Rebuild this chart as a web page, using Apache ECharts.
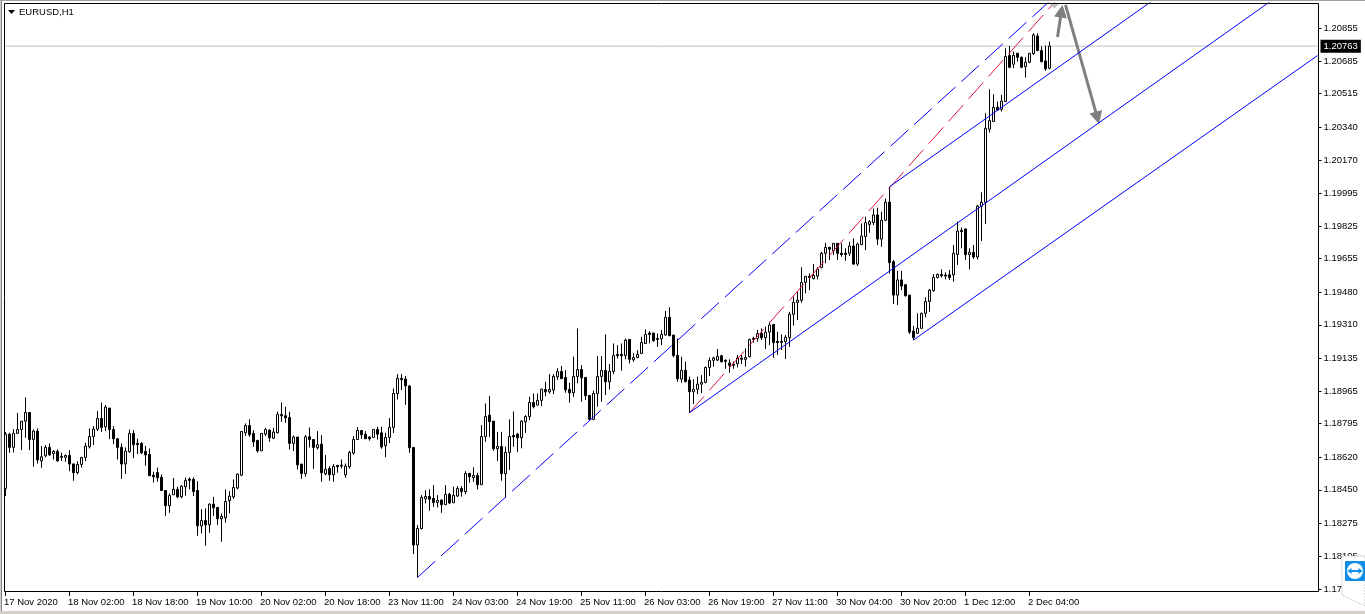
<!DOCTYPE html>
<html><head><meta charset="utf-8">
<style>html,body{margin:0;padding:0;background:#fff;overflow:hidden}#c{width:1365px;height:614px}</style>
<script src="https://cdn.jsdelivr.net/npm/echarts@6/dist/echarts.min.js"></script>
</head><body><div id="c"></div>
<script>
const opens=[1.18457,1.18740,1.18671,1.18744,1.18764,1.18808,1.18853,1.18712,1.18756,1.18601,
1.18627,1.18671,1.18639,1.18650,1.18624,1.18619,1.18629,1.18585,1.18539,1.18582,
1.18619,1.18674,1.18728,1.18766,1.18822,1.18778,1.18876,1.18764,1.18716,1.18671,
1.18585,1.18648,1.18744,1.18692,1.18692,1.18650,1.18634,1.18526,1.18540,1.18516,
1.18446,1.18367,1.18424,1.18452,1.18413,1.18466,1.18506,1.18504,1.18446,1.18262,
1.18290,1.18267,1.18375,1.18358,1.18299,1.18304,1.18393,1.18413,1.18459,1.18526,
1.18747,1.18785,1.18744,1.18707,1.18653,1.18740,1.18761,1.18719,1.18747,1.18843,
1.18836,1.18827,1.18692,1.18725,1.18584,1.18535,1.18726,1.18712,1.18669,1.18688,
1.18533,1.18561,1.18528,1.18577,1.18579,1.18528,1.18570,1.18641,1.18712,1.18759,
1.18739,1.18725,1.18723,1.18765,1.18747,1.18680,1.18723,1.18775,1.18952,1.19031,
1.19027,1.18991,1.18671,1.18162,1.18248,1.18403,1.18415,1.18405,1.18384,1.18396,
1.18372,1.18427,1.18382,1.18417,1.18457,1.18440,1.18535,1.18513,1.18525,1.18476,
1.18728,1.18839,1.18808,1.18664,1.18676,1.18534,1.18645,1.18733,1.18740,1.18721,
1.18805,1.18832,1.18905,1.18892,1.18916,1.18973,1.18961,1.18970,1.19039,1.19067,
1.19036,1.18973,1.18956,1.19041,1.19077,1.19036,1.18942,1.18817,1.18952,1.19041,
1.19072,1.19013,1.19067,1.19156,1.19156,1.19150,1.19234,1.19128,1.19140,1.19161,
1.19213,1.19267,1.19267,1.19239,1.19237,1.19257,1.19349,1.19257,1.19150,1.19027,
1.19073,1.19022,1.18961,1.18974,1.19001,1.19010,1.19088,1.19125,1.19126,1.19149,
1.19125,1.19111,1.19104,1.19107,1.19137,1.19130,1.19144,1.19239,1.19239,1.19266,
1.19243,1.19272,1.19312,1.19224,1.19224,1.19222,1.19243,1.19365,1.19427,1.19438,
1.19531,1.19564,1.19551,1.19564,1.19610,1.19683,1.19714,1.19697,1.19735,1.19683,
1.19683,1.19683,1.19721,1.19627,1.19728,1.19770,1.19834,1.19843,1.19883,1.19757,
1.19855,1.19950,1.19639,1.19465,1.19544,1.19519,1.19465,1.19278,1.19266,1.19292,
1.19370,1.19432,1.19488,1.19557,1.19573,1.19570,1.19571,1.19570,1.19676,1.19803,
1.19810,1.19676,1.19688,1.19664,1.19929,1.19949,1.20330,1.20370,1.20444,1.20434,
1.20474,1.20714,1.20669,1.20726,1.20705,1.20656,1.20679,1.20724,1.20816,1.20740,
1.20686,1.20648];
const closes=[1.18740,1.18671,1.18744,1.18764,1.18808,1.18853,1.18712,1.18756,1.18605,1.18622,
1.18671,1.18632,1.18650,1.18601,1.18619,1.18629,1.18585,1.18539,1.18582,1.18619,
1.18678,1.18728,1.18766,1.18822,1.18775,1.18881,1.18764,1.18716,1.18671,1.18584,
1.18652,1.18744,1.18685,1.18685,1.18643,1.18632,1.18523,1.18518,1.18513,1.18446,
1.18367,1.18420,1.18452,1.18413,1.18469,1.18499,1.18499,1.18441,1.18262,1.18290,
1.18267,1.18375,1.18356,1.18299,1.18311,1.18389,1.18417,1.18462,1.18532,1.18754,
1.18785,1.18737,1.18700,1.18653,1.18744,1.18764,1.18721,1.18751,1.18843,1.18836,
1.18825,1.18692,1.18725,1.18580,1.18535,1.18726,1.18712,1.18671,1.18685,1.18539,
1.18556,1.18528,1.18572,1.18570,1.18574,1.18574,1.18645,1.18712,1.18759,1.18737,
1.18716,1.18716,1.18765,1.18740,1.18673,1.18723,1.18775,1.18952,1.19031,1.19024,
1.18992,1.18669,1.18162,1.18248,1.18410,1.18415,1.18401,1.18384,1.18394,1.18372,
1.18426,1.18381,1.18421,1.18457,1.18440,1.18535,1.18518,1.18525,1.18476,1.18728,
1.18832,1.18805,1.18664,1.18676,1.18534,1.18645,1.18728,1.18726,1.18721,1.18808,
1.18832,1.18905,1.18883,1.18916,1.18975,1.18961,1.18973,1.19041,1.19067,1.19029,
1.18971,1.18956,1.19041,1.19077,1.19034,1.18940,1.18817,1.18952,1.19041,1.19072,
1.19013,1.19067,1.19150,1.19149,1.19149,1.19230,1.19130,1.19140,1.19156,1.19218,
1.19260,1.19260,1.19227,1.19234,1.19260,1.19349,1.19253,1.19149,1.19029,1.19073,
1.19014,1.18961,1.18974,1.19001,1.19010,1.19088,1.19125,1.19137,1.19146,1.19118,
1.19120,1.19099,1.19099,1.19137,1.19130,1.19140,1.19234,1.19234,1.19264,1.19243,
1.19272,1.19309,1.19217,1.19217,1.19219,1.19246,1.19365,1.19427,1.19438,1.19531,
1.19563,1.19557,1.19568,1.19601,1.19683,1.19714,1.19704,1.19735,1.19683,1.19676,
1.19677,1.19721,1.19627,1.19731,1.19773,1.19843,1.19848,1.19883,1.19757,1.19855,
1.19949,1.19634,1.19465,1.19544,1.19512,1.19462,1.19272,1.19243,1.19292,1.19370,
1.19432,1.19491,1.19557,1.19573,1.19566,1.19564,1.19557,1.19683,1.19799,1.19796,
1.19676,1.19688,1.19664,1.19929,1.19949,1.20335,1.20375,1.20444,1.20430,1.20477,
1.20709,1.20653,1.20715,1.20705,1.20653,1.20679,1.20726,1.20822,1.20740,1.20682,
1.20644,1.20763];
const lows=[1.18417,1.18643,1.18645,1.18740,1.18657,1.18721,1.18657,1.18570,1.18587,1.18565,
1.18619,1.18627,1.18608,1.18596,1.18601,1.18596,1.18547,1.18497,1.18530,1.18566,
1.18599,1.18665,1.18683,1.18756,1.18752,1.18756,1.18714,1.18688,1.18608,1.18507,
1.18532,1.18643,1.18615,1.18636,1.18636,1.18575,1.18523,1.18488,1.18492,1.18446,
1.18314,1.18330,1.18424,1.18406,1.18405,1.18419,1.18452,1.18417,1.18210,1.18222,
1.18158,1.18226,1.18313,1.18267,1.18179,1.18278,1.18327,1.18403,1.18452,1.18521,
1.18730,1.18726,1.18674,1.18643,1.18653,1.18730,1.18700,1.18714,1.18744,1.18804,
1.18799,1.18660,1.18653,1.18556,1.18507,1.18518,1.18671,1.18559,1.18660,1.18492,
1.18526,1.18497,1.18492,1.18539,1.18561,1.18513,1.18560,1.18633,1.18709,1.18716,
1.18716,1.18706,1.18720,1.18712,1.18664,1.18620,1.18693,1.18746,1.18921,1.18970,
1.18893,1.18643,1.18115,1.17993,1.18243,1.18379,1.18341,1.18361,1.18358,1.18330,
1.18370,1.18375,1.18382,1.18414,1.18414,1.18427,1.18487,1.18492,1.18452,1.18476,
1.18700,1.18726,1.18653,1.18600,1.18497,1.18410,1.18553,1.18674,1.18646,1.18666,
1.18747,1.18813,1.18874,1.18890,1.18886,1.18938,1.18952,1.18949,1.19022,1.19029,
1.18956,1.18904,1.18935,1.19005,1.18909,1.18918,1.18813,1.18813,1.18883,1.18909,
1.18944,1.18973,1.19053,1.19135,1.19071,1.19130,1.19109,1.19117,1.19135,1.19157,
1.19210,1.19213,1.19222,1.19196,1.19204,1.19253,1.19251,1.19140,1.19013,1.19008,
1.19010,1.18852,1.18897,1.18949,1.18953,1.19005,1.19043,1.19092,1.19121,1.19113,
1.19081,1.19060,1.19081,1.19088,1.19106,1.19092,1.19140,1.19217,1.19222,1.19231,
1.19184,1.19205,1.19139,1.19153,1.19179,1.19132,1.19196,1.19306,1.19335,1.19425,
1.19474,1.19491,1.19547,1.19547,1.19604,1.19631,1.19648,1.19674,1.19648,1.19665,
1.19644,1.19669,1.19622,1.19617,1.19726,1.19700,1.19790,1.19830,1.19726,1.19717,
1.19851,1.19578,1.19418,1.19413,1.19491,1.19457,1.19262,1.19231,1.19262,1.19288,
1.19349,1.19378,1.19483,1.19552,1.19557,1.19547,1.19544,1.19535,1.19622,1.19709,
1.19648,1.19599,1.19653,1.19651,1.19747,1.19836,1.20312,1.20370,1.20425,1.20422,
1.20474,1.20648,1.20648,1.20682,1.20648,1.20599,1.20674,1.20717,1.20740,1.20679,
1.20634,1.20642];
const highs=[1.18752,1.18747,1.18766,1.18851,1.18808,1.18931,1.18853,1.18764,1.18770,1.18678,
1.18683,1.18692,1.18657,1.18660,1.18643,1.18634,1.18657,1.18585,1.18598,1.18619,
1.18695,1.18770,1.18782,1.18860,1.18905,1.18891,1.18876,1.18782,1.18716,1.18692,
1.18671,1.18764,1.18761,1.18716,1.18698,1.18678,1.18665,1.18544,1.18566,1.18530,
1.18446,1.18431,1.18511,1.18466,1.18474,1.18514,1.18514,1.18514,1.18495,1.18349,
1.18353,1.18379,1.18413,1.18358,1.18327,1.18452,1.18443,1.18504,1.18535,1.18754,
1.18796,1.18817,1.18761,1.18711,1.18744,1.18773,1.18766,1.18773,1.18857,1.18905,
1.18883,1.18857,1.18733,1.18725,1.18584,1.18735,1.18775,1.18712,1.18756,1.18735,
1.18631,1.18573,1.18584,1.18580,1.18608,1.18587,1.18653,1.18730,1.18777,1.18759,
1.18756,1.18730,1.18765,1.18779,1.18779,1.18747,1.18824,1.18978,1.19053,1.19053,
1.19043,1.18996,1.18671,1.18266,1.18422,1.18448,1.18452,1.18474,1.18422,1.18401,
1.18474,1.18434,1.18466,1.18469,1.18469,1.18547,1.18539,1.18567,1.18539,1.18787,
1.18900,1.18938,1.18808,1.18752,1.18752,1.18674,1.18817,1.18858,1.18747,1.18813,
1.18839,1.18935,1.18952,1.18952,1.18975,1.19013,1.19053,1.19053,1.19084,1.19095,
1.19074,1.19008,1.19144,1.19291,1.19100,1.19036,1.18944,1.18966,1.19147,1.19147,
1.19260,1.19105,1.19213,1.19204,1.19213,1.19239,1.19234,1.19161,1.19178,1.19248,
1.19286,1.19277,1.19270,1.19265,1.19283,1.19382,1.19401,1.19257,1.19239,1.19144,
1.19118,1.19040,1.19026,1.19040,1.19048,1.19092,1.19140,1.19144,1.19184,1.19154,
1.19130,1.19130,1.19118,1.19153,1.19153,1.19187,1.19238,1.19248,1.19283,1.19292,
1.19300,1.19326,1.19312,1.19274,1.19260,1.19257,1.19378,1.19457,1.19483,1.19610,
1.19564,1.19578,1.19627,1.19610,1.19691,1.19738,1.19717,1.19735,1.19735,1.19735,
1.19709,1.19743,1.19761,1.19738,1.19839,1.19874,1.19856,1.19917,1.19921,1.19900,
1.19969,1.20030,1.19648,1.19592,1.19592,1.19523,1.19465,1.19304,1.19370,1.19373,
1.19453,1.19497,1.19575,1.19578,1.19599,1.19584,1.19596,1.19726,1.19848,1.19818,
1.19813,1.19709,1.19726,1.19935,1.20001,1.20413,1.20538,1.20512,1.20474,1.20509,
1.20752,1.20764,1.20735,1.20726,1.20709,1.20705,1.20726,1.20830,1.20830,1.20761,
1.20766,1.20787];
const timeLabels=['17 Nov 2020','18 Nov 02:00','18 Nov 18:00','19 Nov 10:00','20 Nov 02:00','20 Nov 18:00','23 Nov 11:00','24 Nov 03:00','24 Nov 19:00','25 Nov 11:00','26 Nov 03:00','26 Nov 19:00','27 Nov 11:00','30 Nov 04:00','30 Nov 20:00','1 Dec 12:00','2 Dec 04:00'];
const priceTicks=[1.20855,1.20685,1.20515,1.20340,1.20170,1.19995,1.19825,1.19655,1.19480,1.19310,1.19135,1.18965,1.18795,1.18620,1.18450,1.18275,1.18105,1.17930];
const lastPrice=1.20763;
const labelEvery=16, slotCount=329, priceMin=1.17917, priceMax=1.20988;
const lastPriceLine=[[0,lastPrice],[328,lastPrice]];
const dashedBlueLine=[[103,1.17993],[263,1.21035]];
const dashedRedLine=[[171,1.18852],[263,1.21009]];
const channelUpper=[[221,1.20030],[287,1.21004]];
const channelMiddle=[[171,1.18852],[317,1.21008]];
const channelLower=[[227,1.19231],[328,1.20714]];
const arrowUp=[[263,1.20811],[264,1.20946]];
const arrowDown=[[265,1.20978],[273,1.20388]];

const FONT='"Liberation Sans",Arial,sans-serif';
const categories=Array.from({length:slotCount},(_,i)=>i%labelEvery===0&&timeLabels[i/labelEvery]?timeLabels[i/labelEvery]:'');
const candles=opens.map((o,i)=>[o,closes[i],lows[i],highs[i]]);
const showSlot=i=>i%labelEvery===0&&i/labelEvery<timeLabels.length;
const trend=(name,data,color,dash)=>({name,type:'line',data,symbol:'none',clip:true,z:5,silent:true,animation:false,
  lineStyle:{color,width:1,type:dash?[dash[0],dash[1]]:'solid'}});
const chart=echarts.init(document.getElementById('c'),null,{renderer:'canvas'});
chart.setOption({
  animation:false,backgroundColor:'#ffffff',
  grid:{left:3.5,top:3,width:1316,height:589,show:false},
  tooltip:{show:false},legend:{show:false},
  xAxis:{type:'category',data:categories,boundaryGap:true,
    axisLine:{show:false},
    axisTick:{show:true,alignWithLabel:true,interval:(i)=>showSlot(i),length:4,lineStyle:{color:'#000'}},
    axisLabel:{show:true,interval:(i)=>showSlot(i),align:'left',margin:5,padding:[0,0,0,-1.5],color:'#000',fontFamily:FONT,fontSize:9.5,hideOverlap:false},
    splitLine:{show:false}},
  yAxis:{type:'value',position:'right',offset:-1,min:priceMin,max:priceMax,scale:true,
    axisLine:{show:false},
    axisTick:{show:true,customValues:priceTicks,length:3,lineStyle:{color:'#000'}},
    axisLabel:{show:true,customValues:priceTicks,margin:5,padding:[5,0,0,0],color:'#000',fontFamily:FONT,fontSize:9.5,formatter:v=>v.toFixed(5),showMinLabel:true,showMaxLabel:true},
    splitLine:{show:false}},
  series:[
    {name:'Last price',type:'line',data:lastPriceLine,symbol:'none',z:2,silent:true,animation:false,clip:false,
     lineStyle:{color:'#c0c0c0',width:1,type:'solid'},
     endLabel:{show:true,distance:3,color:'#fff',backgroundColor:'#000',padding:[2,3,1,3],fontFamily:FONT,fontSize:9.5,formatter:()=>lastPrice.toFixed(5)}},
    {name:'EURUSD,H1',type:'candlestick',data:candles,barWidth:2,clip:false,z:3,silent:true,
     itemStyle:{color:'#ffffff',color0:'#000000',borderColor:'#000000',borderColor0:'#000000',borderWidth:1}},
    trend('Dashed blue',dashedBlueLine,'#0000ff',[24,8]),
    trend('Dashed red',dashedRedLine,'#dc143c',[22,8]),
    trend('Channel upper',channelUpper,'#0000ff'),
    trend('Channel middle',channelMiddle,'#0000ff'),
    trend('Channel lower',channelLower,'#0000ff'),
    {name:'Arrows',type:'line',data:[],symbol:'none',z:6,silent:true,
     markLine:{silent:true,animation:false,symbol:['none','triangle'],symbolSize:13,precision:5,
       lineStyle:{color:'#808080',width:3,type:'solid'},label:{show:false},
       data:[[{coord:arrowUp[0]},{coord:arrowUp[1]}],[{coord:arrowDown[0]},{coord:arrowDown[1]}]]}}
  ],
  graphic:[
    {type:'rect',silent:true,z:10,shape:{x:4.5,y:3.5,width:1314,height:588},style:{fill:'none',stroke:'#000',lineWidth:1}},
    {type:'rect',silent:true,z:9,shape:{x:0,y:0,width:1,height:614},style:{fill:'#d4d0c8'}},
    {type:'rect',silent:true,z:9,shape:{x:1,y:0,width:1,height:612},style:{fill:'#808080'}},
    {type:'rect',silent:true,z:9,shape:{x:0,y:0,width:1365,height:1},style:{fill:'#a0a0a0'}},
    {type:'rect',silent:true,z:9,shape:{x:0,y:611,width:1365,height:3},style:{fill:'#d4d0c8'}},
    {type:'polygon',silent:true,z:10,shape:{points:[[8,10],[15,10],[11.5,14]]},style:{fill:'#000'}},
    {type:'text',silent:true,z:10,x:19,y:7,style:{text:'EURUSD,H1',fill:'#000',font:'9.5px '+FONT}},
    {type:'polygon',silent:true,z:7,shape:{points:[[1050,4],[1059,4],[1054.5,8.5]]},style:{fill:'#c0c0c0'}},
    {type:'polygon',silent:true,z:20,shape:{points:[[1342,556],[1365,556],[1365,606],[1342,595]]},style:{fill:'#fff',stroke:'#c8c8c8',lineWidth:1,lineDash:[2,1]}},
    {type:'rect',silent:true,z:21,shape:{x:1345,y:561,width:20,height:20,r:1},style:{fill:'#0e8ee9'}},
    {type:'circle',silent:true,z:22,shape:{cx:1355,cy:571,r:8},style:{fill:'#fff'}},
    {type:'rect',silent:true,z:23,shape:{x:1350,y:570,width:10,height:2},style:{fill:'#0e8ee9'}},
    {type:'polygon',silent:true,z:23,shape:{points:[[1347.5,571],[1351.5,568],[1351.5,574]]},style:{fill:'#0e8ee9'}},
    {type:'polygon',silent:true,z:23,shape:{points:[[1362.5,571],[1358.5,568],[1358.5,574]]},style:{fill:'#0e8ee9'}}
  ]
});
</script></body></html>
